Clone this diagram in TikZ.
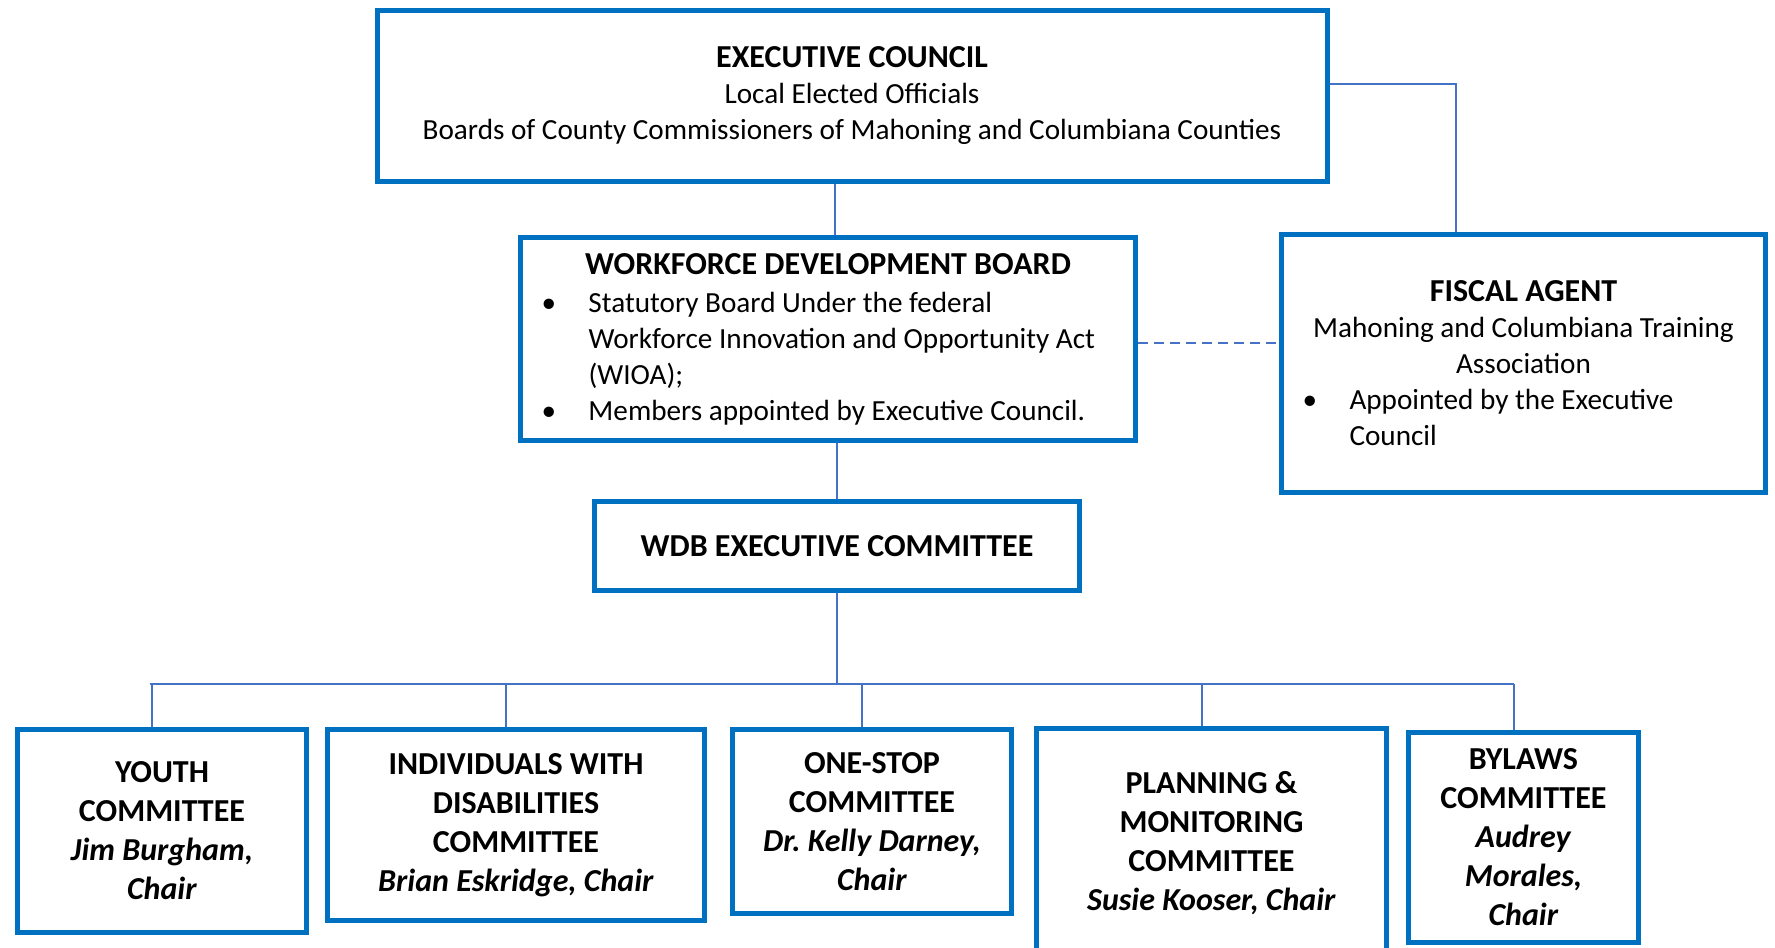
\documentclass[tikz,border=0pt]{standalone}
\usepackage{fontspec}
\setmainfont{Carlito}
\usetikzlibrary{positioning, calc}
\definecolor{boxblue}{HTML}{0070C0}
\definecolor{linkblue}{HTML}{4472C4}
\newcommand{\bul}[1]{\par\noindent\spaceskip=0pt\xspaceskip=0pt\leftskip=0pt\rightskip=0pt plus 1fil
  \hangindent=24pt\hangafter=1\makebox[24pt][l]{\hspace{0.5pt}\textbullet}#1\par}
\newcommand{\boxtitle}[1]{{\spaceskip=0pt\xspaceskip=0pt\centering\fontsize{16}{20}\selectfont\textbf{#1}\par}}

\begin{document}
\begin{tikzpicture}[x=0.5pt, y=-0.5pt,
    orgbox/.style={draw=boxblue, line width=2.5pt, fill=white, align=center, inner xsep=10pt},
    link/.style={draw=linkblue, line width=1pt},
    big/.style={font=\fontsize{14.6}{18}\selectfont},
    comm/.style={orgbox, font=\fontsize{16}{19.5}\selectfont\bfseries}]
    \useasboundingbox (0,0) rectangle (1775,947);

    % Top
    \node[orgbox, big, minimum width=475pt, minimum height=85pt] (council) at (852,96)
      {{\fontsize{16}{20}\selectfont\textbf{EXECUTIVE COUNCIL}}\\Local Elected Officials\\Boards of County Commissioners of Mahoning and Columbiana Counties};
    \node[orgbox, big, align=left, text width=287.5pt, minimum height=101.5pt] (wdb) at (828,339)
      {\boxtitle{WORKFORCE DEVELOPMENT BOARD}\vspace{1pt}
       \bul{Statutory Board Under the federal\newline Workforce Innovation and Opportunity Act\newline (WIOA);}
       \bul{Members appointed by Executive Council.}\vspace{-4.5pt}};
    \node[orgbox, big, align=left, text width=222pt, minimum height=129pt] (fiscal) at (1523.5,363.5)
      {\boxtitle{FISCAL AGENT}
       {\spaceskip=0pt\xspaceskip=0pt\centering Mahoning and Columbiana Training\\Association\par}
       \bul{Appointed by the Executive\newline Council}};
    \node[orgbox, font=\fontsize{16}{19}\selectfont\bfseries, minimum width=242.5pt, minimum height=44.5pt] (execcom) at (837,546)
      {WDB EXECUTIVE COMMITTEE};

    % Committees
    \node[comm, minimum width=144.5pt, minimum height=101.5pt] (youth) at (162,831)
      {YOUTH\\COMMITTEE\\\textit{Jim Burgham,}\\\textit{Chair}};
    \node[comm, minimum width=188.5pt, minimum height=95.5pt] (disab) at (516,825)
      {INDIVIDUALS WITH\\DISABILITIES\\COMMITTEE\\\textit{Brian Eskridge, Chair}};
    \node[comm, minimum width=139.5pt, minimum height=92pt] (onestop) at (872,821.5)
      {ONE-STOP\\COMMITTEE\\\textit{Dr.\ Kelly Darney,}\\\textit{Chair}};
    \node[comm, minimum width=175pt, minimum height=115pt] (planning) at (1211.5,843)
      {PLANNING \&\\MONITORING\\COMMITTEE\\\textit{Susie Kooser, Chair}};
    \node[comm, minimum width=115pt, minimum height=105pt] (bylaws) at (1523.5,837.5)
      {BYLAWS\\COMMITTEE\\\textit{Audrey}\\\textit{Morales,}\\\textit{Chair}};

    % Links
    \draw[link] ([xshift=3.5pt]wdb.north) -- ([xshift=3.5pt]wdb.north |- council.south);
    \draw[link] ([yshift=6pt]council.east) -| ([xshift=-34pt]fiscal.north);
    \draw[link, dash pattern=on 5pt off 3pt] ([yshift=-2pt]wdb.east) -- ([yshift=-2pt]wdb.east -| fiscal.west);
    \draw[link] (execcom.north |- wdb.south) -- (execcom.north);

    \coordinate (bus) at (837,684);
    \draw[link] (execcom.south) -- (execcom.south |- bus);
    \draw[link] ([xshift=-6pt]youth.north |- bus) -- ([xshift=-5pt]bylaws.north |- bus);
    \foreach \n in {youth,disab,onestop,planning,bylaws}
    \draw[link] ([xshift=-5pt]\n.north) -- ([xshift=-5pt]\n.north |- bus);
  \end{tikzpicture}
\end{document}
